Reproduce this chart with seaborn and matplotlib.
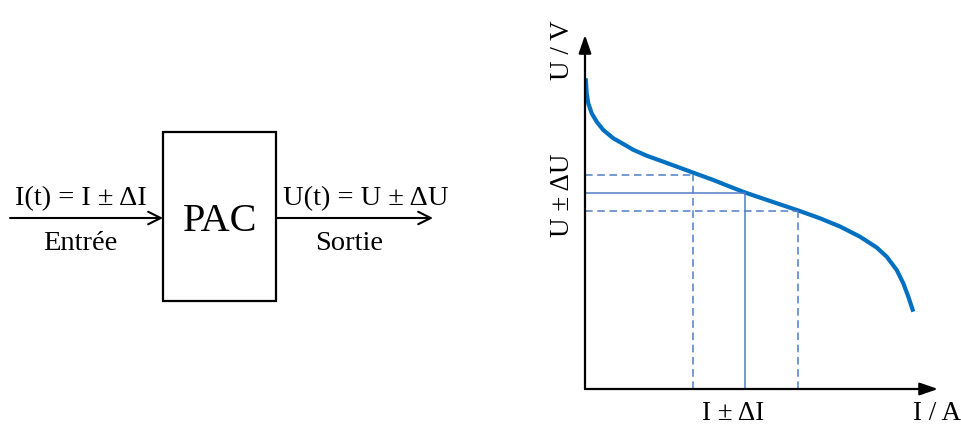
import matplotlib
matplotlib.use("Agg")
import matplotlib.pyplot as plt
from matplotlib.patches import Rectangle, FancyArrowPatch
import seaborn as sns
import pandas as pd

# Polarisation curve of the fuel cell (arbitrary units)
current = [0.02, 0.048, 0.093, 0.19, 0.331, 0.518, 0.802, 1.085, 1.368, 1.748,
           2.218, 2.691, 3.051, 3.635, 4.108, 4.533, 5.241, 6.043, 6.657, 7.224,
           7.79, 8.263, 8.547, 8.83, 9.017, 9.159, 9.30]
voltage = [8.777, 8.353, 8.071, 7.788, 7.551, 7.316, 7.082, 6.921, 6.757, 6.59,
           6.421, 6.249, 6.116, 5.904, 5.715, 5.551, 5.311, 5.042, 4.822, 4.59,
           4.302, 3.997, 3.737, 3.362, 2.986, 2.607, 2.184]

# Operating point and its variation
i_op = [3.05, 4.53, 6.04]
u_op = [6.05, 5.53, 5.04]
guide_styles = ["--", "-", "--"]

curve_color = "#0070C0"
guide_color = "#507DC8"

sns.set_style("white")
plt.rcParams["font.family"] = ["Liberation Serif", "DejaVu Serif"]
plt.rcParams["text.color"] = "black"

fig = plt.figure(figsize=(9.62, 4.26), dpi=100)

# ---- left: block diagram (pixel layout) ----
bg = fig.add_axes([0, 0, 1, 1])
bg.set_xlim(0, 962)
bg.set_ylim(426, 0)
bg.axis("off")

bg.add_patch(Rectangle((163, 132), 113, 169, fill=False, edgecolor="black", lw=1.6))
for x0, x1 in [(10, 163), (276, 433)]:
    bg.add_patch(FancyArrowPatch((x0, 218), (x1, 218),
                                 arrowstyle="->,head_length=9,head_width=4.5",
                                 mutation_scale=1, lw=1.5, color="black",
                                 shrinkA=0, shrinkB=0))

bg.text(220, 231, "PAC", fontsize=29, ha="center", va="baseline", color="black")
bg.text(81, 205, "I(t) = I ± ΔI", fontsize=20.5, ha="center", va="baseline", color="black")
bg.text(80, 250, "Entrée", fontsize=20.5, ha="center", va="baseline", color="black")
bg.text(366, 205, "U(t) = U ± ΔU", fontsize=20.5, ha="center", va="baseline", color="black")
bg.text(349, 250, "Sortie", fontsize=20.5, ha="center", va="baseline", color="black")

# ---- right: U-I curve ----
ax = fig.add_axes([585 / 962, 37 / 426, 353 / 962, 354 / 426])
ax.set_facecolor("none")
df = pd.DataFrame({"I": current, "U": voltage})
sns.lineplot(data=df, x="I", y="U", ax=ax, color=curve_color, lw=3,
             sort=False, estimator=None, solid_capstyle="butt", solid_joinstyle="round")

for i, u, ls in zip(i_op, u_op, guide_styles):
    dash = (5, 3) if ls == "--" else (None, None)
    ax.plot([0, i], [u, u], ls=ls, color=guide_color, lw=1.1, dashes=dash)
    ax.plot([i, i], [0, u], ls=ls, color=guide_color, lw=1.1, dashes=dash)

ax.set_xlim(0, 10)
ax.set_ylim(0, 10)
ax.set_xticks([])
ax.set_yticks([])
ax.set_xlabel("")
ax.set_ylabel("")
for s in ax.spines.values():
    s.set_visible(False)

arrow_kw = dict(arrowstyle="-|>,head_length=11,head_width=3.8", mutation_scale=1,
                lw=1.6, color="black", shrinkA=0, shrinkB=0)
ax.annotate("", xy=(0, 1), xytext=(0, 0), xycoords="axes fraction", arrowprops=arrow_kw)
ax.annotate("", xy=(1, 0), xytext=(0, 0), xycoords="axes fraction", arrowprops=arrow_kw)

bg.text(563, 50, "U / V", fontsize=19.5, rotation=90, ha="center", va="center", color="black")
bg.text(563, 195, "U ± ΔU", fontsize=19.5, rotation=90, ha="center", va="center", color="black")
bg.text(733, 420, "I ± ΔI", fontsize=19.5, ha="center", va="baseline", color="black")
bg.text(937, 420, "I / A", fontsize=19.5, ha="center", va="baseline", color="black")

fig.savefig("out.png", dpi=100)
